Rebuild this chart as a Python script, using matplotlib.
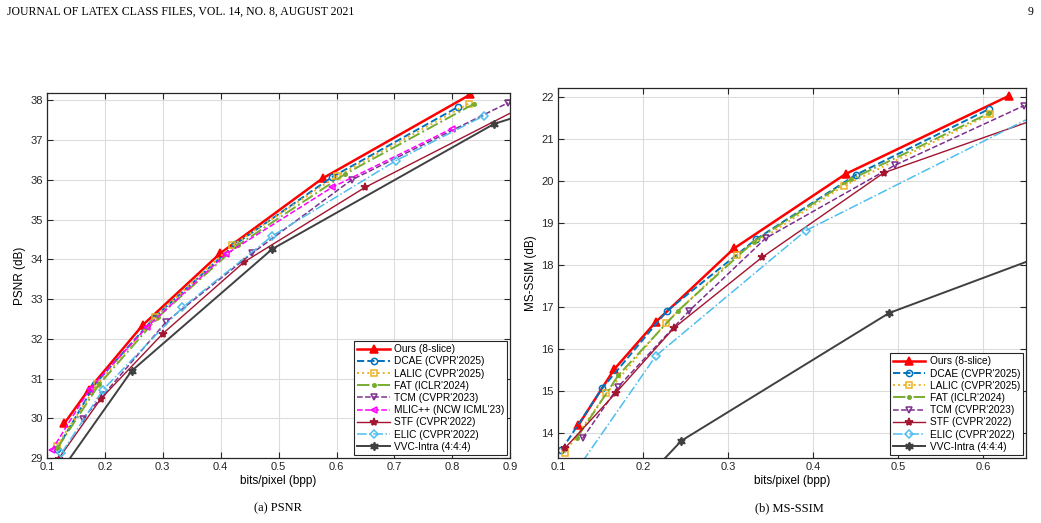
import numpy as np
import matplotlib.pyplot as plt

plt.rcParams['font.family'] = ['Liberation Sans', 'DejaVu Sans']

# ---- PSNR data (bpp, dB) ----
psnr_ours_x = [0.130, 0.172, 0.265, 0.399, 0.576, 0.831]
psnr_ours_y = [29.87, 30.72, 32.34, 34.15, 36.04, 38.15]
psnr_dcae_x = [0.117, 0.183, 0.287, 0.425, 0.592, 0.809]
psnr_dcae_y = [29.22, 30.86, 32.56, 34.38, 36.07, 37.83]
psnr_lalic_x = [0.117, 0.187, 0.287, 0.420, 0.600, 0.828]
psnr_lalic_y = [29.31, 30.85, 32.55, 34.35, 36.09, 37.92]
psnr_fat_x = [0.118, 0.190, 0.292, 0.430, 0.615, 0.838]
psnr_fat_y = [29.25, 30.85, 32.55, 34.36, 36.15, 37.92]
psnr_tcm_x = [0.162, 0.197, 0.306, 0.454, 0.626, 0.896]
psnr_tcm_y = [29.99, 30.58, 32.43, 34.15, 36.00, 37.94]
psnr_mlic_x = [0.108, 0.174, 0.273, 0.409, 0.592, 0.799]
psnr_mlic_y = [29.19, 30.74, 32.30, 34.13, 35.81, 37.29]
psnr_stf_x = [0.120, 0.193, 0.300, 0.441, 0.649, 0.920]
psnr_stf_y = [28.98, 30.49, 32.13, 33.94, 35.81, 37.83]
psnr_elic_x = [0.125, 0.197, 0.334, 0.489, 0.702, 0.855]
psnr_elic_y = [29.12, 30.72, 32.79, 34.59, 36.48, 37.62]
psnr_vvc_x = [0.125, 0.246, 0.489, 0.872, 0.950]
psnr_vvc_y = [28.69, 31.19, 34.26, 37.41, 37.77]

# ---- MS-SSIM data (bpp, dB) ----
ms_ours_x = [0.124, 0.166, 0.215, 0.307, 0.438, 0.630]
ms_ours_y = [14.18, 15.51, 16.64, 18.39, 20.16, 22.02]
ms_dcae_x = [0.104, 0.152, 0.228, 0.333, 0.450, 0.606]
ms_dcae_y = [13.59, 15.06, 16.90, 18.61, 20.14, 21.70]
ms_lalic_x = [0.108, 0.157, 0.227, 0.310, 0.436, 0.608]
ms_lalic_y = [13.52, 14.94, 16.62, 18.23, 19.88, 21.58]
ms_fat_x = [0.122, 0.171, 0.241, 0.330, 0.444, 0.606]
ms_fat_y = [13.87, 15.37, 16.90, 18.55, 20.03, 21.60]
ms_tcm_x = [0.129, 0.171, 0.254, 0.344, 0.496, 0.648]
ms_tcm_y = [13.87, 15.10, 16.90, 18.63, 20.37, 21.79]
ms_stf_x = [0.108, 0.168, 0.236, 0.340, 0.483, 0.720]
ms_stf_y = [13.63, 14.95, 16.49, 18.18, 20.19, 21.88]
ms_elic_x = [0.118, 0.215, 0.391, 0.660]
ms_elic_y = [13.00, 15.83, 18.81, 21.55]
ms_vvc_x = [0.140, 0.245, 0.489, 0.800]
ms_vvc_y = [11.55, 13.81, 16.85, 19.20]

# name -> color, linestyle, marker, filled, linewidth, markersize
styles = {
    'Ours (8-slice)':       ('#FF0000', '-',  '^', True,  1.8, 5.5),
    'DCAE (CVPR\'2025)':    ('#0072BD', '--', 'o', False, 1.4, 4.5),
    'LALIC (CVPR\'2025)':   ('#EDB120', ':',  's', False, 1.4, 4.5),
    'FAT (ICLR\'2024)':     ('#77AC30', '-.', '.', True,  1.4, 5.0),
    'TCM (CVPR\'2023)':     ('#7E2F8E', '--', 'v', False, 1.1, 5.0),
    'MLIC++ (NCW ICML\'23)':('#FF00FF', '--', '<', False, 1.1, 5.0),
    'STF (CVPR\'2022)':     ('#A2142F', '-',  '*', True,  1.0, 6.0),
    'ELIC (CVPR\'2022)':    ('#4DBEEE', '-.', 'D', False, 1.1, 4.0),
    'VVC-Intra (4:4:4)':    ('#404040', '-',  (6, 1, 0), True, 1.4, 6.0),
}

psnr_series = [
    ('Ours (8-slice)', psnr_ours_x, psnr_ours_y),
    ('DCAE (CVPR\'2025)', psnr_dcae_x, psnr_dcae_y),
    ('LALIC (CVPR\'2025)', psnr_lalic_x, psnr_lalic_y),
    ('FAT (ICLR\'2024)', psnr_fat_x, psnr_fat_y),
    ('TCM (CVPR\'2023)', psnr_tcm_x, psnr_tcm_y),
    ('MLIC++ (NCW ICML\'23)', psnr_mlic_x, psnr_mlic_y),
    ('STF (CVPR\'2022)', psnr_stf_x, psnr_stf_y),
    ('ELIC (CVPR\'2022)', psnr_elic_x, psnr_elic_y),
    ('VVC-Intra (4:4:4)', psnr_vvc_x, psnr_vvc_y),
]
ms_series = [
    ('Ours (8-slice)', ms_ours_x, ms_ours_y),
    ('DCAE (CVPR\'2025)', ms_dcae_x, ms_dcae_y),
    ('LALIC (CVPR\'2025)', ms_lalic_x, ms_lalic_y),
    ('FAT (ICLR\'2024)', ms_fat_x, ms_fat_y),
    ('TCM (CVPR\'2023)', ms_tcm_x, ms_tcm_y),
    ('STF (CVPR\'2022)', ms_stf_x, ms_stf_y),
    ('ELIC (CVPR\'2022)', ms_elic_x, ms_elic_y),
    ('VVC-Intra (4:4:4)', ms_vvc_x, ms_vvc_y),
]


def draw(ax, series, xlim, ylim, xticks, yticks, ylabel):
    for name, xs, ys in series:
        c, ls, mk, filled, lw, ms = styles[name]
        ax.plot(xs, ys, color=c, linestyle=ls, linewidth=lw, marker=mk,
                markersize=ms, markerfacecolor=c if filled else 'none',
                markeredgecolor=c, markeredgewidth=1.1, label=name)
    ax.set_xlim(*xlim)
    ax.set_ylim(*ylim)
    ax.set_xticks(xticks)
    ax.set_yticks(yticks)
    ax.set_xticklabels([f'{t:g}' for t in xticks])
    ax.grid(True, color='#dcdcdc', linewidth=0.8)
    ax.set_axisbelow(True)
    ax.tick_params(direction='in', top=True, right=True, labelsize=8,
                   length=4, width=0.8, colors='#262626', pad=3)
    for s in ax.spines.values():
        s.set_color('#262626')
        s.set_linewidth(0.9)
    ax.set_xlabel('bits/pixel (bpp)', fontsize=8.5, labelpad=2)
    ax.set_ylabel(ylabel, fontsize=8.5, labelpad=3)
    leg = ax.legend(loc='lower right', fontsize=7.3, handlelength=3.2,
                    fancybox=False, framealpha=1, edgecolor='#262626',
                    borderpad=0.3, labelspacing=0.22, handletextpad=0.4,
                    borderaxespad=0.3)
    leg.get_frame().set_linewidth(0.8)


fig = plt.figure(figsize=(10.41, 5.23), dpi=100)
ax1 = fig.add_axes([0.0451, 0.1243, 0.4451, 0.6973])
ax2 = fig.add_axes([0.5360, 0.1243, 0.4496, 0.7069])

draw(ax1, psnr_series, (0.1, 0.9), (29, 38.18),
     [0.1, 0.2, 0.3, 0.4, 0.5, 0.6, 0.7, 0.8, 0.9], list(range(29, 39)), 'PSNR (dB)')
draw(ax2, ms_series, (0.1, 0.65), (13.4, 22.2),
     [0.1, 0.2, 0.3, 0.4, 0.5, 0.6], list(range(14, 23)), 'MS-SSIM (dB)')

serif = ['Liberation Serif', 'DejaVu Serif']
fig.text(7 / 1041, 1 - 12 / 523, 'JOURNAL OF LATEX CLASS FILES, VOL. 14, NO. 8, AUGUST 2021',
         family=serif, fontsize=8.5, va='center', ha='left')
fig.text(1034 / 1041, 1 - 12 / 523, '9', family=serif, fontsize=8.5, va='center', ha='right')
fig.text(278 / 1041, 1 - 508 / 523, '(a) PSNR', family=serif, fontsize=9, va='center', ha='center')
fig.text(789 / 1041, 1 - 508 / 523, '(b) MS-SSIM', family=serif, fontsize=9, va='center', ha='center')

fig.savefig('out.png', dpi=100)
